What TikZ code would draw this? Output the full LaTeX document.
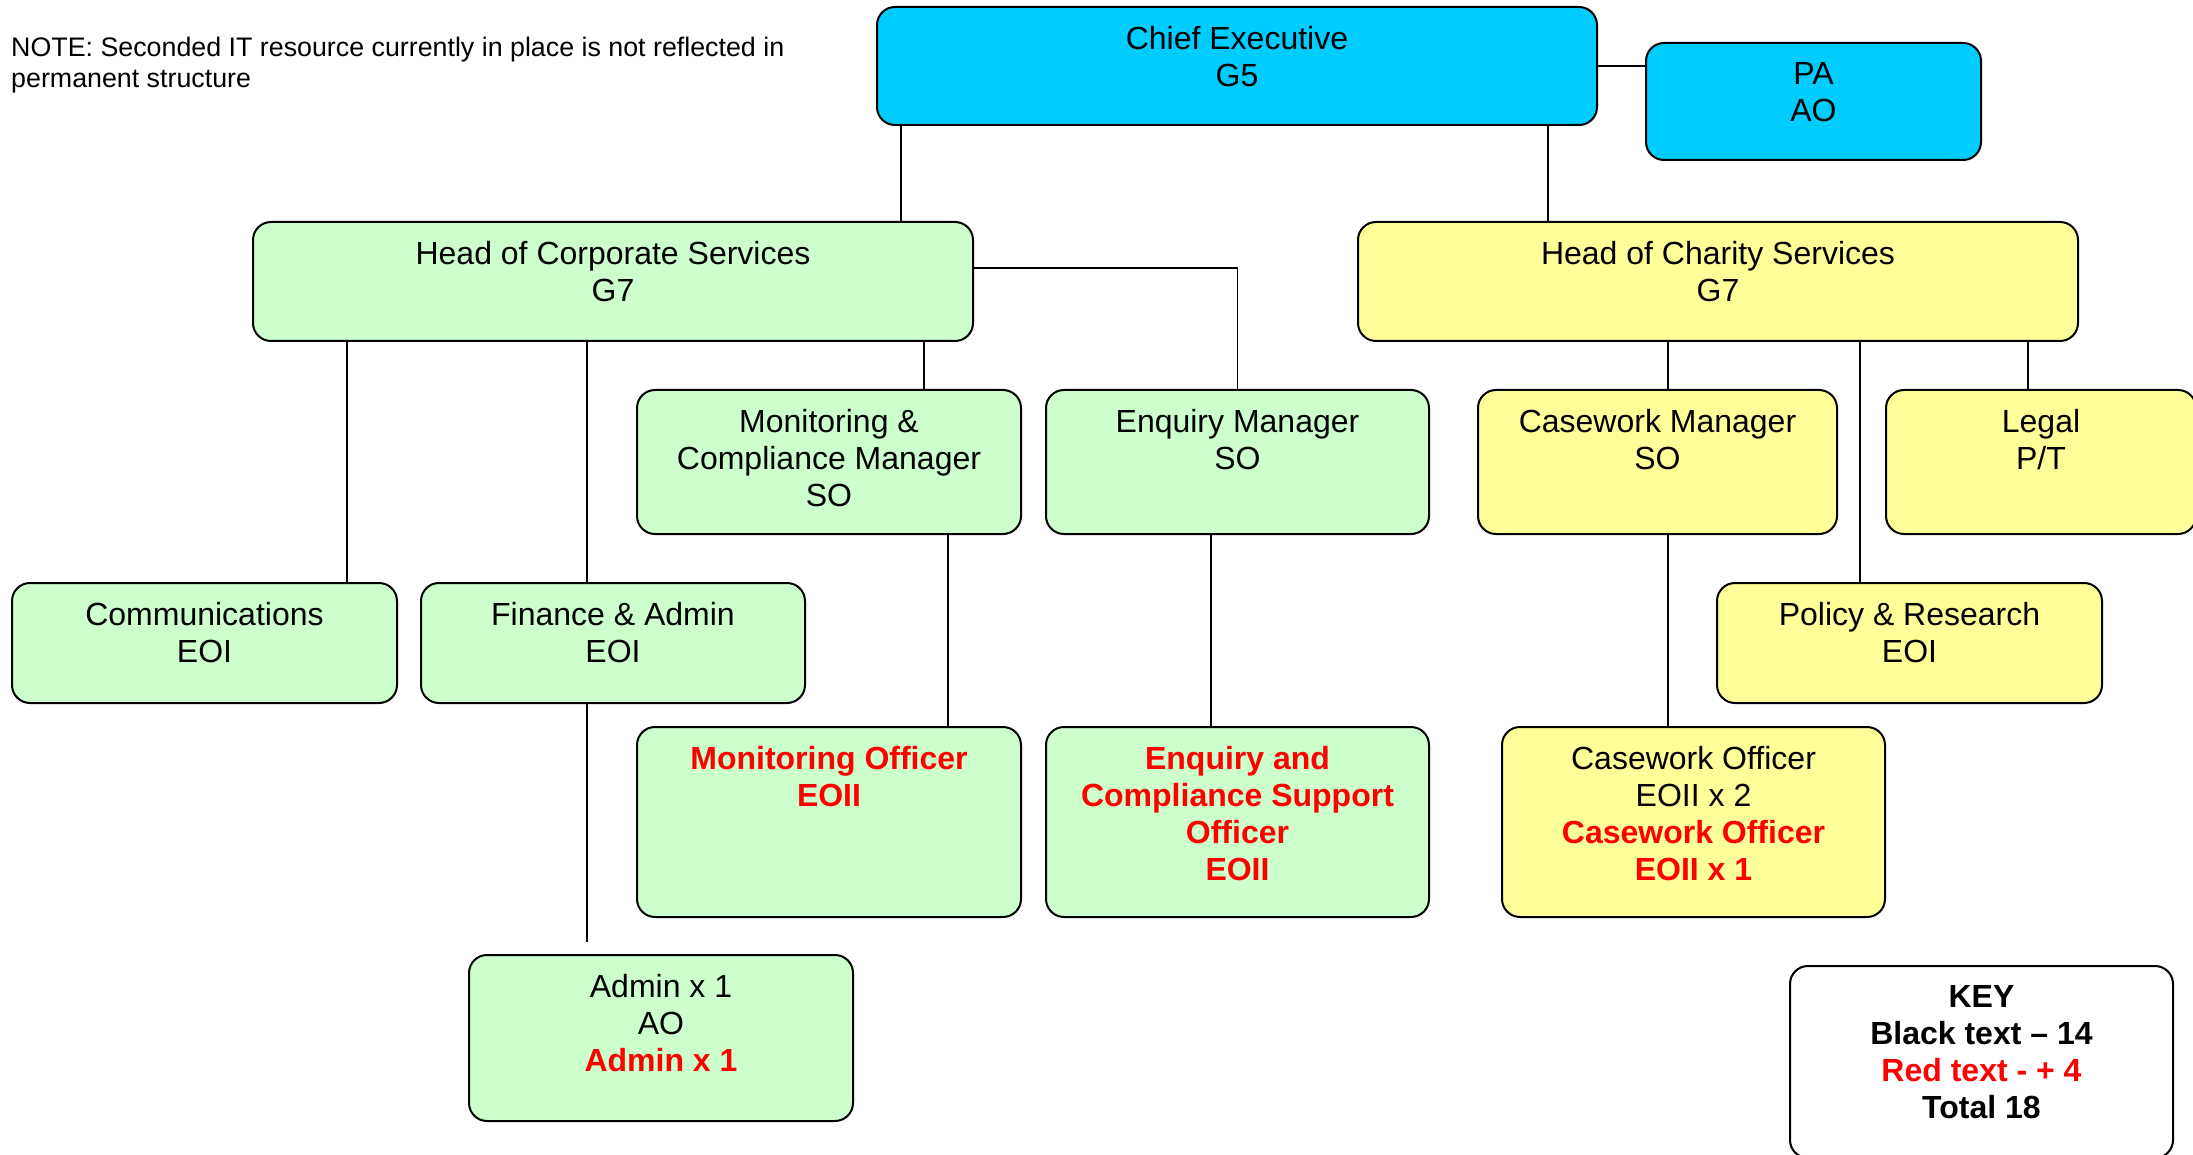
\documentclass[tikz,border=0pt]{standalone}
\usepackage{fontspec}
\setmainfont{Liberation Sans}
\definecolor{ceblue}{HTML}{00CCFF}
\definecolor{corpgreen}{HTML}{CCFFCC}
\definecolor{charyellow}{HTML}{FFFF99}

\begin{document}
\begin{tikzpicture}[x=1pt,y=-1pt]
    \tikzstyle{box}=[draw,rounded corners=18pt,line width=2pt,inner sep=0,anchor=north west]
    \tikzstyle{txt}=[anchor=north,align=center,inner sep=0,font=\fontsize{32}{37}\selectfont]
    \tikzstyle{link}=[line width=1.3pt]
    \newcommand{\post}[7]{
        \path (#2,#3) node[box,fill=#6,minimum width=#4pt,minimum height=#5pt] (#1) {};
        \path ([yshift=-20pt]#1.north) node[txt] (#1-t) {#7};
    }
    \newcommand{\redbf}[1]{\textcolor{red}{\bfseries #1}}
    \useasboundingbox (0,0) rectangle (2193,1155);
    \path (11,37) node[anchor=north west,align=left,inner sep=0,font=\fontsize{26.8}{30.8}\selectfont] (note)
        {NOTE: Seconded IT resource currently in place is not reflected in\\permanent structure};
    \post{ce}{876}{6}{720}{118}{ceblue}{Chief Executive\\G5}
    \post{pa}{1645}{42}{335}{117}{ceblue}{PA\\AO}
    \post{hcs}{252}{221}{720}{119}{corpgreen}{Head of Corporate Services\\G7}
    \post{hch}{1357}{221}{720}{119}{charyellow}{Head of Charity Services\\G7}
    \post{mcm}{636}{389}{384}{144}{corpgreen}{Monitoring \&\\Compliance Manager\\SO}
    \post{enq}{1045}{389}{383}{144}{corpgreen}{Enquiry Manager\\SO}
    \post{cwm}{1477}{389}{359}{144}{charyellow}{Casework Manager\\SO}
    \post{legal}{1885}{389}{310}{144}{charyellow}{Legal\\P/T}
    \post{comm}{11}{582}{385}{120}{corpgreen}{Communications\\EOI}
    \post{fin}{420}{582}{384}{120}{corpgreen}{Finance \& Admin\\EOI}
    \post{pol}{1716}{582}{385}{120}{charyellow}{Policy \& Research\\EOI}
    \post{mo}{636}{726}{384}{190}{corpgreen}{\redbf{Monitoring Officer}\\\redbf{EOII}}
    \post{ecso}{1045}{726}{383}{190}{corpgreen}{\redbf{Enquiry and}\\\redbf{Compliance Support}\\\redbf{Officer}\\\redbf{EOII}}
    \post{cwo}{1501}{726}{383}{190}{charyellow}{Casework Officer\\EOII x 2\\\redbf{Casework Officer}\\\redbf{EOII x 1}}
    \post{adm}{468}{954}{384}{166}{corpgreen}{Admin x 1\\AO\\\redbf{Admin x 1}}
    \post{key}{1789}{965}{383}{192}{white}{\textbf{KEY}\\\textbf{Black text -- 14}\\\redbf{Red text - + 4}\\\textbf{Total 18}}
    \coordinate (hcs-x) at (901,0);
    \coordinate (hch-x) at (1548,0);
    \coordinate (enq-y) at (0,268);
    \coordinate (comm-x) at (347,0);
    \coordinate (fin-x) at (587,0);
    \coordinate (mcm-x) at (924,0);
    \coordinate (mo-x) at (948,0);
    \coordinate (ecso-x) at (1211,0);
    \coordinate (cwm-x) at (1668,0);
    \coordinate (pol-x) at (1860,0);
    \coordinate (legal-x) at (2028,0);
    \coordinate (adm-end) at (587,942);
    \draw[link] (ce.east) -- (ce.east -| pa.west);
    \draw[link] (ce.south -| hcs-x) -- (hcs.north -| hcs-x);
    \draw[link] (ce.south -| hch-x) -- (hch.north -| hch-x);
    \draw[link] (hcs.east |- enq-y) -| (enq.north);
    \draw[link] (hcs.south -| comm-x) -- (comm.north -| comm-x);
    \draw[link] (hcs.south -| fin-x) -- (fin.north -| fin-x);
    \draw[link] (hcs.south -| mcm-x) -- (mcm.north -| mcm-x);
    \draw[link] (mcm.south -| mo-x) -- (mo.north -| mo-x);
    \draw[link] (enq.south -| ecso-x) -- (ecso.north -| ecso-x);
    \draw[link] (fin.south -| adm-end) -- (adm-end);
    \draw[link] (hch.south -| cwm-x) -- (cwm.north -| cwm-x);
    \draw[link] (cwm.south -| cwm-x) -- (cwo.north -| cwm-x);
    \draw[link] (hch.south -| pol-x) -- (pol.north -| pol-x);
    \draw[link] (hch.south -| legal-x) -- (legal.north -| legal-x);
\end{tikzpicture}
\end{document}
